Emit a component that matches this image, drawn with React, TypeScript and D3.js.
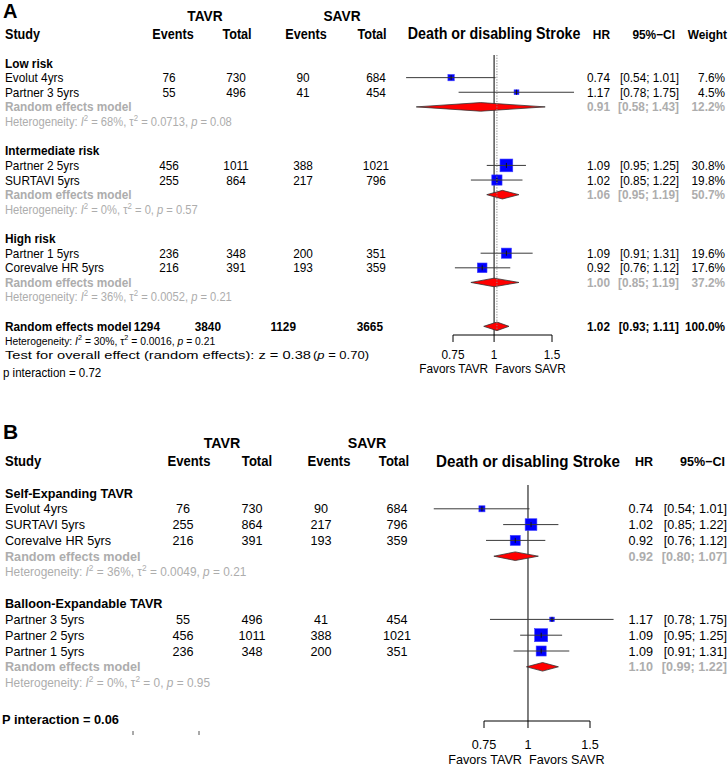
import React from 'react';
import * as d3 from 'd3';

const FONT = '"Liberation Sans", Arial, Helvetica, sans-serif';
const GREY = '#adadad';

// ---- Panel A: by surgical risk ----
const groupsA = ['Low risk', 'Intermediate risk', 'High risk'];
const studyA = ['Evolut 4yrs', 'Partner 3 5yrs', 'Partner 2 5yrs', 'SURTAVI 5yrs', 'Partner 1 5yrs', 'Corevalve HR 5yrs'];
const groupOfA = [0, 0, 1, 1, 2, 2];
const tavrEventsA = [76, 55, 456, 255, 236, 216];
const tavrTotalA = [730, 496, 1011, 864, 348, 391];
const savrEventsA = [90, 41, 388, 217, 200, 193];
const savrTotalA = [684, 454, 1021, 796, 351, 359];
const hrA = [0.74, 1.17, 1.09, 1.02, 1.09, 0.92];
const loA = [0.54, 0.78, 0.95, 0.85, 0.91, 0.76];
const hiA = [1.01, 1.75, 1.25, 1.22, 1.31, 1.12];
const weightA = [7.6, 4.5, 30.8, 19.8, 19.6, 17.6];
const subHrA = [0.91, 1.06, 1.0];
const subLoA = [0.58, 0.95, 0.85];
const subHiA = [1.43, 1.19, 1.19];
const subWeightA = [12.2, 50.7, 37.2];
const hetI2A = ['68%', '0%', '36%'];
const hetTauA = ['0.0713', '0', '0.0052'];
const hetPA = ['0.08', '0.57', '0.21'];
const overallTotalsA = [1294, 3840, 1129, 3665];
const overallA = [1.02, 0.93, 1.11, 100.0];
const overallHetA = ['30%', '0.0016', '0.21'];
const overallTestA = ['0.38', '0.70'];
const pInteractionA = '0.72';

// ---- Panel B: by valve type ----
const groupsB = ['Self-Expanding TAVR', 'Balloon-Expandable TAVR'];
const studyB = ['Evolut 4yrs', 'SURTAVI 5yrs', 'Corevalve HR 5yrs', 'Partner 3 5yrs', 'Partner 2 5yrs', 'Partner 1 5yrs'];
const groupOfB = [0, 0, 0, 1, 1, 1];
const tavrEventsB = [76, 255, 216, 55, 456, 236];
const tavrTotalB = [730, 864, 391, 496, 1011, 348];
const savrEventsB = [90, 217, 193, 41, 388, 200];
const savrTotalB = [684, 796, 359, 454, 1021, 351];
const hrB = [0.74, 1.02, 0.92, 1.17, 1.09, 1.09];
const loB = [0.54, 0.85, 0.76, 0.78, 0.95, 0.91];
const hiB = [1.01, 1.22, 1.12, 1.75, 1.25, 1.31];
const weightB = [7, 26, 19, 4, 32, 19]; // not printed, read from square sizes
const subHrB = [0.92, 1.1];
const subLoB = [0.8, 0.99];
const subHiB = [1.07, 1.22];
const hetI2B = ['36%', '0%'];
const hetTauB = ['0.0049', '0'];
const hetPB = ['0.21', '0.95'];
const pInteractionB = '0.06';

const tickValues = [0.75, 1, 1.5];
const tickLabels = ['0.75', '1', '1.5'];

const fmt = d3.format('.2f');
const ci = (lo: number, hi: number) => `[${fmt(lo)}; ${fmt(hi)}]`;

// text with a slight horizontal squeeze (the original glyphs are narrow and tall)
function T({ x, y, fs, sx = 1, anchor = 'start', bold = false, fill = '#000', children }: any) {
  return (
    <text
      transform={`translate(${x},${y}) scale(${sx},1)`}
      dy="0.35em"
      fontSize={fs}
      textAnchor={anchor}
      fontWeight={bold ? 'bold' : 'normal'}
      fill={fill}
    >
      {children}
    </text>
  );
}

function Het({ x, y, i2, tau, p, fill, fs, sx }: any) {
  const up = -fs * 0.4;
  return (
    <T x={x} y={y} fs={fs} sx={sx} fill={fill}>
      {'Heterogeneity: '}
      <tspan fontStyle="italic">I</tspan>
      <tspan dy={up} fontSize={fs * 0.7}>2</tspan>
      <tspan dy={-up}>{` = ${i2}, \u03c4`}</tspan>
      <tspan dy={up} fontSize={fs * 0.7}>2</tspan>
      <tspan dy={-up}>{` = ${tau}, `}</tspan>
      <tspan fontStyle="italic">p</tspan>
      {` = ${p}`}
    </T>
  );
}

function Forest({ d, L }: any) {
  const x = d3.scaleLog().domain([0.75, 1.5]).range(L.xRange);
  const y = (i: number) => L.top + i * L.pitch;
  const side = (w: number) => 2.3 * Math.sqrt(w);
  const fs = L.fs;
  const sx = L.sx;
  const els: any[] = [];
  let r = 0;

  const diamond = (est: number, lo: number, hi: number, yy: number, key: string) => {
    const h = 4.3;
    const pts = [[x(lo), yy], [x(est), yy - h], [x(hi), yy], [x(est), yy + h]];
    els.push(<polygon key={key} points={pts.map(p => p.join(',')).join(' ')} fill="#ff0000" stroke="#333" strokeWidth={0.8} />);
  };

  d.groups.forEach((g: string, gi: number) => {
    els.push(<T key={`g${gi}`} x={5} y={y(r)} fs={fs} sx={sx} bold>{g}</T>);
    r++;
    d.names.forEach((name: string, i: number) => {
      if (d.groupOf[i] !== gi) return;
      const yy = y(r);
      const vals = [d.te[i], d.tt[i], d.se[i], d.st[i]];
      els.push(<T key={`n${i}`} x={5} y={yy} fs={fs} sx={sx}>{name}</T>);
      vals.forEach((v: number, c: number) => {
        els.push(<T key={`v${i}-${c}`} x={L.cols[c]} y={yy} fs={fs} sx={sx} anchor="middle">{v}</T>);
      });
      const s = side(d.w[i]);
      els.push(<rect key={`sq${i}`} x={x(d.hr[i]) - s / 2} y={yy - s / 2} width={s} height={s} fill="#0000ff" stroke="#4040ff" strokeWidth={0.6} />);
      els.push(<line key={`ci${i}`} x1={x(d.lo[i])} x2={x(d.hi[i])} y1={yy} y2={yy} stroke="#3a3a3a" strokeWidth={1} />);
      els.push(<line key={`ct${i}`} x1={x(d.hr[i])} x2={x(d.hr[i])} y1={yy - 2.5} y2={yy + 2.5} stroke="#111" strokeWidth={1} />);
      els.push(<T key={`hr${i}`} x={L.hrRight} y={yy} fs={fs} sx={sx} anchor="end">{fmt(d.hr[i])}</T>);
      els.push(<T key={`cr${i}`} x={L.ciRight} y={yy} fs={fs} sx={sx} anchor="end">{ci(d.lo[i], d.hi[i])}</T>);
      if (L.wRight) els.push(<T key={`w${i}`} x={L.wRight} y={yy} fs={fs} sx={sx} anchor="end">{`${d.w[i].toFixed(1)}%`}</T>);
      r++;
    });
    const yy = y(r);
    els.push(<T key={`rem${gi}`} x={5} y={yy} fs={fs} sx={sx} bold fill={GREY}>Random effects model</T>);
    diamond(d.subHr[gi], d.subLo[gi], d.subHi[gi], yy, `dm${gi}`);
    els.push(<T key={`shr${gi}`} x={L.hrRight} y={yy} fs={fs} sx={sx} anchor="end" bold fill={GREY}>{fmt(d.subHr[gi])}</T>);
    els.push(<T key={`sci${gi}`} x={L.ciRight} y={yy} fs={fs} sx={sx} anchor="end" bold fill={GREY}>{ci(d.subLo[gi], d.subHi[gi])}</T>);
    if (L.wRight) els.push(<T key={`sw${gi}`} x={L.wRight} y={yy} fs={fs} sx={sx} anchor="end" bold fill={GREY}>{`${d.subW[gi].toFixed(1)}%`}</T>);
    r++;
    els.push(<Het key={`het${gi}`} x={5} y={y(r)} i2={d.hetI2[gi]} tau={d.hetTau[gi]} p={d.hetP[gi]} fill={GREY} fs={L.hetFs} sx={sx} />);
    r += 2;
  });

  if (d.overall) {
    const yy = y(r);
    els.push(<T key="ov" x={5} y={yy} fs={fs} sx={sx} bold>Random effects model</T>);
    d.overallTotals.forEach((v: number, c: number) => {
      els.push(<T key={`ov${c}`} x={L.overallRight[c]} y={yy} fs={fs} sx={sx} anchor="end" bold>{v}</T>);
    });
    const [est, lo, hi, w] = d.overall;
    diamond(est, lo, hi, yy, 'dmov');
    els.push(<T key="ovhr" x={L.hrRight} y={yy} fs={fs} sx={sx} anchor="end" bold>{fmt(est)}</T>);
    els.push(<T key="ovci" x={L.ciRight} y={yy} fs={fs} sx={sx} anchor="end" bold>{ci(lo, hi)}</T>);
    els.push(<T key="ovw" x={L.wRight} y={yy} fs={fs} sx={sx} anchor="end" bold>{`${w.toFixed(1)}%`}</T>);
    r++;
    els.push(<Het key="ovhet" x={5} y={y(r)} i2={d.overallHet[0]} tau={d.overallHet[1]} p={d.overallHet[2]} fill="#000" fs={L.ovHetFs} sx={sx} />);
    r++;
    els.push(
      <text key="test" x={5} y={y(r)} dy="0.35em" fontSize={11} textLength={306} lengthAdjust="spacingAndGlyphs">
        {`Test for overall effect (random effects): z = ${d.overallTest[0]}`}
      </text>
    );
    els.push(
      <text key="testp" x={313} y={y(r)} dy="0.35em" fontSize={11} textLength={56} lengthAdjust="spacingAndGlyphs">
        {'('}
        <tspan fontStyle="italic">p</tspan>
        {` = ${d.overallTest[1]})`}
      </text>
    );
    // reference line at pooled estimate
    els.push(<line key="dot" x1={x(est)} x2={x(est)} y1={L.lineTop} y2={L.axisY - 6} stroke="#888" strokeWidth={1} strokeDasharray="1.2,1.5" />);
  }

  els.push(
    <T key="pint" x={L.pintX} y={L.pintY} fs={L.pintFs} sx={sx} bold={L.pintBold}>
      {`${L.pintLabel} = ${d.pInt}`}
    </T>
  );

  return (
    <g>
      <T x={3} y={L.labelY} fs={L.labelFs} bold>{L.label}</T>
      <T x={L.tavrX} y={L.armY} fs={L.armFs} sx={sx} anchor="middle" bold>TAVR</T>
      <T x={L.savrX} y={L.armY} fs={L.armFs} sx={sx} anchor="middle" bold>SAVR</T>
      <T x={5} y={L.headY} fs={L.headFs} sx={sx} bold>Study</T>
      {['Events', 'Total', 'Events', 'Total'].map((t, c) => (
        <T key={c} x={L.headCols[c]} y={L.headY} fs={L.headFs} sx={sx} anchor="middle" bold>{t}</T>
      ))}
      <T x={x(1)} y={L.headY} fs={L.titleFs} sx={sx} anchor="middle" bold>Death or disabling Stroke</T>
      <T x={L.hrRight} y={L.headY} fs={L.colHeadFs} sx={sx} anchor="end" bold>HR</T>
      <T x={L.ciHeadRight} y={L.headY} fs={L.colHeadFs} sx={sx} anchor="end" bold>95%−CI</T>
      {L.wRight ? <T x={L.wRight + 2} y={L.headY} fs={L.colHeadFs} sx={sx} anchor="end" bold>Weight</T> : null}
      <line x1={x(1)} x2={x(1)} y1={L.lineTop} y2={L.axisY} stroke="#000" strokeWidth={1} />
      {els}
      <line x1={x(tickValues[0])} x2={x(tickValues[tickValues.length - 1])} y1={L.axisY} y2={L.axisY} stroke="#000" strokeWidth={1} />
      {tickValues.map((t, i) => (
        <g key={t}>
          <line x1={x(t)} x2={x(t)} y1={L.axisY} y2={L.axisY + 7} stroke="#000" strokeWidth={1} />
          <T x={x(t)} y={L.axisY + L.tickLabOff} fs={fs} sx={sx} anchor="middle">{tickLabels[i]}</T>
        </g>
      ))}
      <T x={x(1) - 6} y={L.axisY + L.favOff} fs={fs} sx={sx} anchor="end">Favors TAVR</T>
      <T x={x(1) + 1} y={L.axisY + L.favOff} fs={fs} sx={sx}>Favors SAVR</T>
    </g>
  );
}

const dataA = {
  groups: groupsA, names: studyA, groupOf: groupOfA,
  te: tavrEventsA, tt: tavrTotalA, se: savrEventsA, st: savrTotalA,
  hr: hrA, lo: loA, hi: hiA, w: weightA,
  subHr: subHrA, subLo: subLoA, subHi: subHiA, subW: subWeightA,
  hetI2: hetI2A, hetTau: hetTauA, hetP: hetPA,
  overall: overallA, overallTotals: overallTotalsA, overallHet: overallHetA, overallTest: overallTestA,
  pInt: pInteractionA,
};

const dataB = {
  groups: groupsB, names: studyB, groupOf: groupOfB,
  te: tavrEventsB, tt: tavrTotalB, se: savrEventsB, st: savrTotalB,
  hr: hrB, lo: loB, hi: hiB, w: weightB,
  subHr: subHrB, subLo: subLoB, subHi: subHiB, subW: [],
  hetI2: hetI2B, hetTau: hetTauB, hetP: hetPB,
  overall: null, pInt: pInteractionB,
};

const layoutA = {
  label: 'A', labelY: 11, labelFs: 20, armY: 16, armFs: 15, headY: 34, headFs: 13.8, colHeadFs: 13, titleFs: 15.6,
  fs: 12.9, sx: 0.915, hetFs: 12.2, ovHetFs: 11.3,
  tavrX: 205, savrX: 342, headCols: [173, 237, 306, 372], cols: [169, 236, 303, 376], overallRight: [160, 221, 296, 383],
  top: 63, pitch: 14.63, xRange: [453, 552], hrRight: 610, ciRight: 679, ciHeadRight: 675, wRight: 725,
  lineTop: 55, axisY: 335, tickLabOff: 19.5, favOff: 33,
  pintX: 3, pintY: 373, pintLabel: 'p interaction', pintBold: false, pintFs: 12.6,
};

const layoutB = {
  label: 'B', labelY: 432, labelFs: 21, armY: 443, armFs: 15, headY: 461, headFs: 13.8, colHeadFs: 13.2, titleFs: 16,
  fs: 13.3, sx: 0.95, hetFs: 12.5, ovHetFs: 12.5,
  tavrX: 222, savrX: 367, headCols: [189, 257, 329, 394], cols: [183, 252, 321, 397], overallRight: [],
  top: 493, pitch: 15.8, xRange: [484, 590], hrRight: 653, ciRight: 727, ciHeadRight: 725, wRight: 0,
  lineTop: 485, axisY: 721, tickLabOff: 23, favOff: 38,
  pintX: 2, pintY: 719, pintLabel: 'P interaction', pintBold: true, pintFs: 13.5,
};

export default function App() {
  return (
    <>
      <style>{'body{margin:0;background:#fff}'}</style>
      <svg width={728} height={767} viewBox="0 0 728 767" style={{ display: 'block', fontFamily: FONT }}>
        <rect width={728} height={767} fill="#fff" />
        <Forest d={dataA} L={layoutA} />
        <Forest d={dataB} L={layoutB} />
        <line x1={133} x2={133} y1={731} y2={735} stroke="#555" strokeWidth={1} />
        <line x1={199} x2={199} y1={731} y2={735} stroke="#555" strokeWidth={1} />
      </svg>
    </>
  );
}
